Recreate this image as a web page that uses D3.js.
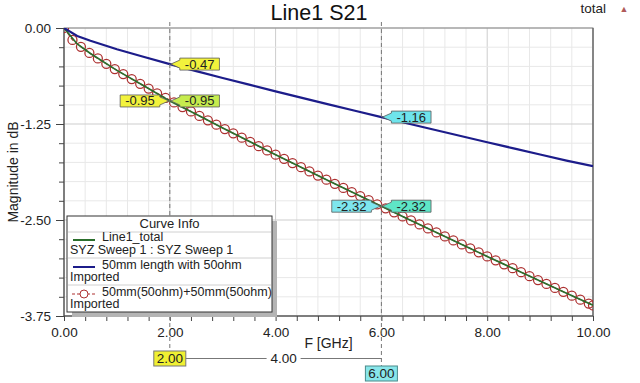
<!DOCTYPE html>
<html><head><meta charset="utf-8">
<script src="https://cdn.jsdelivr.net/npm/d3@7/dist/d3.min.js"></script>
<style>
html,body{margin:0;padding:0;background:#fff;}
svg{display:block;font-family:Arial,"Liberation Sans",sans-serif;}
</style></head>
<body>
<svg id="chart" width="640" height="383"></svg>
<script>
// ---------- data ----------
const title = "Line1 S21";
const xTicks = [0, 2, 4, 6, 8, 10];
const yTicks = [0, -1.25, -2.5, -3.75];
const freqLine = [0,0.25,0.5,1,1.5,2,2.5,3,3.5,4,4.5,5,5.5,6,6.5,7,7.5,8,8.5,9,9.5,10];
const blueVals = [0,-0.104,-0.166,-0.276,-0.375,-0.47,-0.562,-0.651,-0.738,-0.825,-0.910,-0.995,-1.078,-1.16,-1.243,-1.325,-1.406,-1.487,-1.567,-1.647,-1.727,-1.80];
const greenVals = [0,-0.208,-0.332,-0.552,-0.75,-0.95,-1.124,-1.302,-1.476,-1.65,-1.82,-1.99,-2.156,-2.32,-2.486,-2.65,-2.812,-2.974,-3.134,-3.294,-3.454,-3.61];
const redFreq = [0,0.16,0.32,0.48,0.64,0.8,0.96,1.12,1.28,1.44,1.6,1.76,1.92,2.08,2.24,2.4,2.56,2.72,2.88,3.04,3.2,3.36,3.52,3.68,3.84,4,4.16,4.32,4.48,4.64,4.8,4.96,5.12,5.28,5.44,5.6,5.76,5.92,6.08,6.24,6.4,6.56,6.72,6.88,7.04,7.2,7.36,7.52,7.68,7.84,8,8.16,8.32,8.48,8.64,8.8,8.96,9.12,9.28,9.44,9.6,9.76,9.92,10];
const redVals = [0,-0.155,-0.245,-0.324,-0.397,-0.467,-0.535,-0.600,-0.665,-0.727,-0.789,-0.850,-0.910,-0.970,-1.029,-1.087,-1.145,-1.202,-1.259,-1.316,-1.372,-1.428,-1.484,-1.539,-1.595,-1.650,-1.704,-1.759,-1.813,-1.867,-1.921,-1.975,-2.029,-2.082,-2.136,-2.189,-2.242,-2.295,-2.348,-2.400,-2.453,-2.506,-2.558,-2.610,-2.662,-2.714,-2.766,-2.818,-2.870,-2.922,-2.974,-3.025,-3.077,-3.128,-3.179,-3.231,-3.282,-3.333,-3.384,-3.435,-3.486,-3.537,-3.588,-3.613];
const markerFreqs = [2, 6];
const markerTexts = ["2.00", "6.00"];
const deltaText = "4.00";
// callouts: frequency, value, label, side, fill
const calloutFreq = [2, 2, 2, 6, 6, 6];
const calloutVal  = [-0.47, -0.95, -0.95, -1.16, -2.32, -2.32];
const calloutText = ["-0.47", "-0.95", "-0.95", "-1.16", "-2.32", "-2.32"];
const calloutSide = ["right", "left", "right", "right", "left", "right"];
const calloutFill = ["#f2f23c", "#f2f23c", "#c6ec4e", "#6ee4ec", "#7ee6ee", "#5ee6c6"];
const legendTitle = "Curve Info";
const legendNames = ["Line1_total", "50mm length with 50ohm", "50mm(50ohm)+50mm(50ohm)"];
const legendSubs = ["SYZ Sweep 1 : SYZ Sweep 1", "Imported", "Imported"];

// ---------- layout ----------
const L = 64, R = 593, T = 28, B = 316;
const svg = d3.select("#chart");
const x = d3.scaleLinear().domain([0, 10]).range([L, R]);
const y = d3.scaleLinear().domain([-3.75, 0]).range([B, T]);
const blue = "#1c1c8a", green = "#2a6e2c", red = "#ad3030";

// grid
const xMinor = d3.range(0, 10.001, 0.4);
const yMinor = d3.range(-3.75, 0.001, 0.25);
const grid = svg.append("g");
grid.selectAll(".vx").data(xMinor).join("line")
  .attr("x1", d => x(d)).attr("x2", d => x(d)).attr("y1", T).attr("y2", B)
  .attr("stroke", d => Math.abs(d / 2 - Math.round(d / 2)) < 1e-6 ? "#cdcdcd" : "#e8e8e8").attr("stroke-width", 1);
grid.selectAll(".hy").data(yMinor).join("line")
  .attr("y1", d => y(d)).attr("y2", d => y(d)).attr("x1", L).attr("x2", R)
  .attr("stroke", d => Math.abs(d / 1.25 - Math.round(d / 1.25)) < 1e-6 ? "#cdcdcd" : "#e8e8e8").attr("stroke-width", 1);

// axes frame
svg.append("rect").attr("x", L).attr("y", T).attr("width", R - L).attr("height", B - T)
  .attr("fill", "none").attr("stroke", "#8a8a8a").attr("stroke-width", 1);
svg.append("line").attr("x1", L).attr("x2", L).attr("y1", T).attr("y2", B).attr("stroke", "#444");
svg.append("line").attr("x1", L).attr("x2", R).attr("y1", B).attr("y2", B).attr("stroke", "#444");
svg.append("line").attr("x1", R).attr("x2", R).attr("y1", T).attr("y2", B).attr("stroke", "#555");

// x axis
const xAxis = d3.axisBottom(x).tickValues(xMinor).tickSize(5)
  .tickFormat(d => xTicks.some(t => Math.abs(t - d) < 1e-6) ? d.toFixed(2) : "");
const gx = svg.append("g").attr("transform", `translate(0,${B})`).call(xAxis);
gx.select(".domain").remove();
gx.selectAll(".tick line").attr("stroke", "#444");
gx.selectAll("text").attr("font-size", 13.5).attr("fill", "#222").attr("dy", "0.95em")
  .attr("font-family", "Arial, 'Liberation Sans', sans-serif");

// y axis
const yAxis = d3.axisLeft(y).tickValues(yMinor).tickSize(5)
  .tickFormat(d => yTicks.some(t => Math.abs(t - d) < 1e-6) ? d.toFixed(2) : "");
const gy = svg.append("g").attr("transform", `translate(${L},0)`).call(yAxis);
gy.select(".domain").remove();
gy.selectAll(".tick line").attr("stroke", "#444")
  .attr("x2", d => yTicks.some(t => Math.abs(t - d) < 1e-6) ? -8 : -5);
gy.selectAll("text").attr("font-size", 13.5).attr("fill", "#222").attr("x", -13)
  .attr("font-family", "Arial, 'Liberation Sans', sans-serif");

// labels
svg.append("text").attr("x", 319).attr("y", 20).attr("text-anchor", "middle")
  .attr("font-size", 21.5).attr("fill", "#111").text(title);
svg.append("text").attr("x", 606).attr("y", 13).attr("text-anchor", "end")
  .attr("font-size", 13.5).attr("fill", "#222").text("total");
svg.append("text").attr("x", 624).attr("y", 12).attr("text-anchor", "middle")
  .attr("font-size", 9).attr("fill", "#b05a5a").text("▲");
svg.append("text").attr("x", (L + R) / 2).attr("y", 348).attr("text-anchor", "middle")
  .attr("font-size", 14).attr("fill", "#222").text("F [GHz]");
svg.append("text").attr("transform", `translate(18,${(T + B) / 2}) rotate(-90)`)
  .attr("text-anchor", "middle").attr("font-size", 14).attr("fill", "#222").text("Magnitude in dB");

// clip
svg.append("clipPath").attr("id", "clip").append("rect")
  .attr("x", L).attr("y", T).attr("width", R - L).attr("height", B - T);
const plot = svg.append("g").attr("clip-path", "url(#clip)");

// marker dashed lines
const mg = svg.append("g");
markerFreqs.forEach((f, i) => {
  mg.append("line").attr("x1", x(f)).attr("x2", x(f)).attr("y1", T - 6).attr("y2", i === 0 ? 351 : 366)
    .attr("stroke", "#777").attr("stroke-dasharray", "4,3").attr("stroke-width", 1);
});

// curves
const line = d3.line().x(d => x(d[0])).y(d => y(d[1]));
const redData = redFreq.map((f, i) => [f, redVals[i]]);
plot.append("path").datum(redData).attr("d", line).attr("fill", "none")
  .attr("stroke", red).attr("stroke-width", 1.2).attr("stroke-dasharray", "4,2");
plot.selectAll(".rc").data(redData).join("circle")
  .attr("cx", d => x(d[0])).attr("cy", d => y(d[1])).attr("r", 4.5)
  .attr("fill", "none").attr("stroke", red).attr("stroke-width", 1.25);
plot.append("path").datum(freqLine.map((f, i) => [f, greenVals[i]])).attr("d", line)
  .attr("fill", "none").attr("stroke", green).attr("stroke-width", 1.7);
plot.append("path").datum(freqLine.map((f, i) => [f, blueVals[i]])).attr("d", line)
  .attr("fill", "none").attr("stroke", blue).attr("stroke-width", 2.2);

// callouts
const cg = svg.append("g").attr("font-size", 13).attr("fill", "#222");
calloutFreq.forEach((f, i) => {
  const px = x(f), py = y(calloutVal[i]);
  const t = cg.append("text").attr("y", py + 4.5).text(calloutText[i]);
  const w = t.node().getComputedTextLength() + 10, h = 12;
  const top = py - h / 2, bot = py + h / 2;
  let d, bx;
  if (calloutSide[i] === "right") {
    bx = px + 10;
    d = `M${px + 1},${py} L${bx},${py - 4} L${bx},${top} L${bx + w},${top} L${bx + w},${bot} L${bx},${bot} L${bx},${py + 4} Z`;
  } else {
    bx = px - 10 - w;
    d = `M${px - 1},${py} L${bx + w},${py - 4} L${bx + w},${top} L${bx},${top} L${bx},${bot} L${bx + w},${bot} L${bx + w},${py + 4} Z`;
  }
  cg.insert("path", "text").attr("d", d).attr("fill", calloutFill[i]).attr("stroke", "#5a5a5a").attr("stroke-width", 0.8);
  t.attr("x", bx + 5).raise();
});

// bottom markers
const bg = svg.append("g").attr("font-size", 13.5);
const m0 = x(markerFreqs[0]), m1 = x(markerFreqs[1]);
bg.append("rect").attr("x", m0 - 16).attr("y", 351).attr("width", 32).attr("height", 15)
  .attr("fill", "#f0f032").attr("stroke", "#777");
bg.append("text").attr("x", m0).attr("y", 363).attr("text-anchor", "middle").attr("fill", "#222").text(markerTexts[0]);
bg.append("rect").attr("x", m1 - 16).attr("y", 366).attr("width", 32).attr("height", 15)
  .attr("fill", "#88e6ea").attr("stroke", "#4a8a8a");
bg.append("text").attr("x", m1).attr("y", 378).attr("text-anchor", "middle").attr("fill", "#222").text(markerTexts[1]);
const mid = (m0 + 16 + m1) / 2;
bg.append("line").attr("x1", m0 + 16).attr("x2", mid - 17).attr("y1", 358.5).attr("y2", 358.5).attr("stroke", "#777");
bg.append("line").attr("x1", mid + 17).attr("x2", m1).attr("y1", 358.5).attr("y2", 358.5).attr("stroke", "#777");
bg.append("text").attr("x", mid).attr("y", 363).attr("text-anchor", "middle").attr("fill", "#222").text(deltaText);

// legend
const lg = svg.append("g").attr("font-size", 12.5).attr("fill", "#222");
const lx = 67, ly = 216, lw = 205, lh = 96;
lg.append("rect").attr("x", lx + 5).attr("y", ly + 5).attr("width", lw).attr("height", lh).attr("fill", "#b4b4b4");
lg.append("rect").attr("x", lx).attr("y", ly).attr("width", lw).attr("height", lh).attr("fill", "#fff").attr("stroke", "#333");
lg.append("text").attr("x", lx + lw / 2).attr("y", ly + 12).attr("text-anchor", "middle").attr("font-size", 13).text(legendTitle);
[232, 258, 285].forEach(yy => lg.append("line").attr("x1", lx + 1).attr("x2", lx + lw - 1)
  .attr("y1", yy).attr("y2", yy).attr("stroke", "#d0d0d0"));
const rowY = [240, 267, 294];
const rowColors = [green, blue, red];
legendNames.forEach((n, i) => {
  const ry = rowY[i];
  if (i < 2) {
    lg.append("line").attr("x1", lx + 6).attr("x2", lx + 28).attr("y1", ry).attr("y2", ry)
      .attr("stroke", rowColors[i]).attr("stroke-width", 2);
  } else {
    lg.append("line").attr("x1", lx + 5).attr("x2", lx + 28).attr("y1", ry).attr("y2", ry)
      .attr("stroke", red).attr("stroke-width", 1).attr("stroke-dasharray", "3,2");
    lg.append("circle").attr("cx", lx + 17).attr("cy", ry).attr("r", 4).attr("fill", "#fff").attr("stroke", red);
  }
  lg.append("text").attr("x", lx + 35).attr("y", ry + (i === 0 ? 0.5 : 1.5)).text(n);
  lg.append("text").attr("x", lx + 3).attr("y", ry + 14).text(legendSubs[i]);
});
</script>
</body></html>
